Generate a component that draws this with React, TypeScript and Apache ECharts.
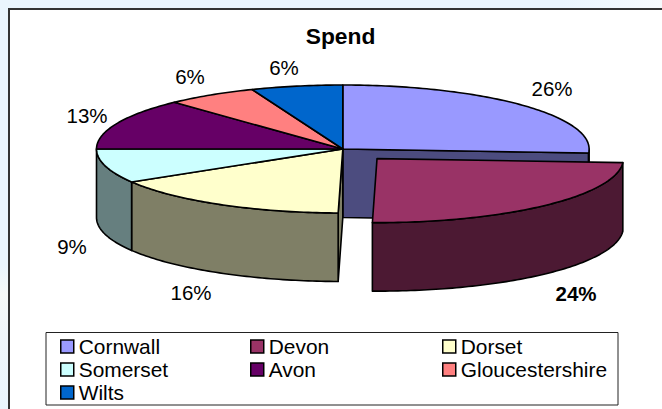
import React, { useEffect, useRef } from "react";
import * as echarts from "echarts";

const categories = ["Cornwall", "Devon", "Dorset", "Somerset", "Avon", "Gloucestershire", "Wilts"];
const spend = [26, 24.3, 16.1, 8.6, 13, 6, 6];
const topColors = ["#9999ff", "#993366", "#ffffcc", "#ccffff", "#660066", "#ff8080", "#0066cc"];
const wallColors = ["#4c4c7f", "#4c1933", "#7f7f66", "#667f7f", "#330033", "#7f4040", "#003366"];
const legendColumns = [["Cornwall", "Somerset", "Wilts"], ["Devon", "Avon"], ["Dorset", "Gloucestershire"]];
const legendLefts = [60, 250, 442];
const labelPositions = [[552, 88], [576, 293], [191, 292], [72, 246], [87, 115], [190, 76], [284, 67]];

const FONT = '"Liberation Sans", Arial, sans-serif';
const CX = 342.8, CY = 149, RX = 246.3, RY = 64, DEPTH = 68.5;
const EXPLODED = 1, EXPLODE = 0.205;

const total = spend.reduce((a, b) => a + b, 0);
const toAngle = (v: number) => (v / total) * 360;
const starts = spend.map((_, i) => toAngle(spend.slice(0, i).reduce((a, b) => a + b, 0)));

const pt = (cx: number, cy: number, deg: number, dy = 0): number[] => {
  const r = (deg * Math.PI) / 180;
  return [cx + RX * Math.sin(r), cy - RY * Math.cos(r) + dy];
};
const arc = (cx: number, cy: number, a: number, b: number, dy = 0) => {
  const out: number[][] = [];
  const n = Math.max(2, Math.ceil(Math.abs(b - a)));
  for (let i = 0; i <= n; i++) out.push(pt(cx, cy, a + ((b - a) * i) / n, dy));
  return out;
};

const stroke = { stroke: "#000", lineWidth: 1.6, lineJoin: "round" };

function renderSlice(index: number) {
  return (_params: any, api: any) => {
    const a = starts[index];
    const b = a + toAngle(api.value(0));
    let cx = CX, cy = CY;
    if (index === EXPLODED) {
      const mid = (((a + b) / 2) * Math.PI) / 180;
      cx += RX * EXPLODE * Math.sin(mid);
      cy -= RY * EXPLODE * Math.cos(mid);
    }
    const children: any[] = [];
    const poly = (points: number[][], fill: string) =>
      children.push({ type: "polygon", shape: { points }, style: { fill, ...stroke } });
    const face = (deg: number) => {
      const p = pt(cx, cy, deg);
      poly([[cx, cy], p, [p[0], p[1] + DEPTH], [cx, cy + DEPTH]], wallColors[index]);
    };
    if (index === EXPLODED + 1) face(a);
    if (index === EXPLODED - 1) face(b);
    const wa = Math.max(a, 90), wb = Math.min(b, 270);
    if (wb > wa) poly([...arc(cx, cy, wa, wb), ...arc(cx, cy, wb, wa, DEPTH)], wallColors[index]);
    poly([[cx, cy], ...arc(cx, cy, a, b)], topColors[index]);
    return { type: "group", children };
  };
}

export default function App() {
  const ref = useRef<HTMLDivElement>(null);
  useEffect(() => {
    const chart = echarts.init(ref.current!, undefined, { renderer: "svg" });
    chart.setOption({
      animation: false,
      backgroundColor: "#eaf5fd",
      title: {
        text: "Spend",
        left: 340.5,
        top: 24.5,
        textAlign: "center",
        padding: 0,
        textStyle: { fontFamily: FONT, fontSize: 22.8, fontWeight: "bold", color: "#000" },
      },
      legend: legendColumns.map((names, c) => ({
        left: legendLefts[c],
        top: 335,
        orient: "vertical",
        padding: 0,
        itemGap: 0,
        itemWidth: 13,
        itemHeight: 13,
        icon: "rect",
        align: "left",
        selectedMode: false,
        textStyle: { fontFamily: FONT, fontSize: 20.9, color: "#000", lineHeight: 23, padding: [0, 0, 0, 0] },
        data: names.map((name) => ({
          name,
          itemStyle: { color: topColors[categories.indexOf(name)], borderColor: "#000", borderWidth: 1.5 },
        })),
      })),
      graphic: [
        {
          type: "rect",
          z: -2,
          shape: { x: 0, y: 0, width: 662, height: 30 },
          style: {
            fill: {
              type: "linear", x: 0, y: 0, x2: 1, y2: 0,
              colorStops: [{ offset: 0, color: "#eaf5fd" }, { offset: 0.85, color: "#eaf5fd" }, { offset: 1, color: "#f6fafd" }],
            },
          },
        },
        {
          type: "rect",
          z: -2,
          shape: { x: 0, y: 0, width: 9, height: 409 },
          style: {
            fill: {
              type: "linear", x: 0, y: 0, x2: 0, y2: 1,
              colorStops: [
                { offset: 0, color: "#eaf5fd" },
                { offset: 0.65, color: "#eaf5fd" },
                { offset: 0.72, color: "#f6f9f8" },
                { offset: 0.82, color: "#f0f6fa" },
                { offset: 1, color: "#eaf5fd" },
              ],
            },
          },
        },
        {
          type: "rect",
          z: -1,
          shape: { x: 9, y: 9, width: 670, height: 420 },
          style: { fill: "#fff", stroke: "#333", lineWidth: 2 },
        },
        {
          type: "rect",
          z: -1,
          shape: { x: 46, y: 332.5, width: 572, height: 72.5 },
          style: { fill: "#fff", stroke: "#222", lineWidth: 1 },
        },
        ...spend.map((v, i) => ({
          type: "text",
          z: 10,
          x: labelPositions[i][0],
          y: labelPositions[i][1],
          style: {
            text: `${Math.round(v)}%`,
            fontFamily: FONT,
            fontSize: 20.5,
            fontWeight: i === EXPLODED ? "bold" : "normal",
            fill: "#000",
            align: "center",
            verticalAlign: "middle",
          },
        })),
      ],
      series: categories.map((name, i) => ({
        type: "custom",
        name,
        coordinateSystem: "none",
        clip: false,
        silent: true,
        itemStyle: { color: topColors[i] },
        data: [[spend[i]]],
        renderItem: renderSlice(i),
      })),
    });
    return () => chart.dispose();
  }, []);
  return <div ref={ref} style={{ position: "absolute", left: 0, top: 0, width: 662, height: 409 }} />;
}
